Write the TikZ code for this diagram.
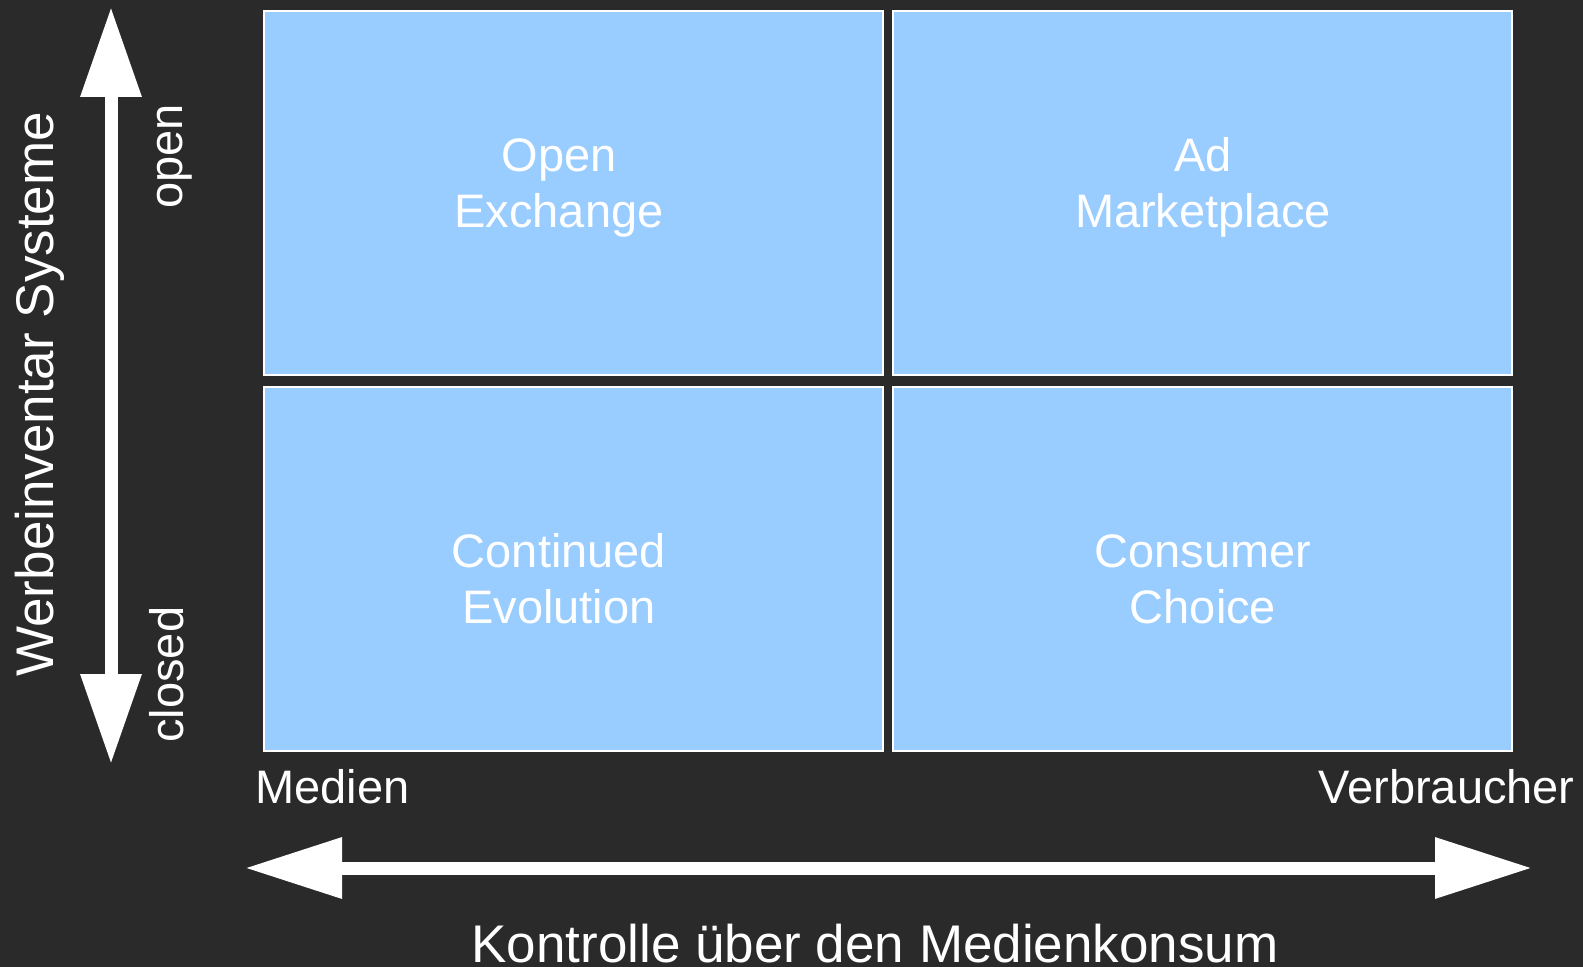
\documentclass[tikz,border=0pt]{standalone}
\usepackage{fontspec}
\setmainfont{Liberation Sans}
\usetikzlibrary{arrows.meta}
\definecolor{bgdark}{RGB}{42,42,42}
\definecolor{cellblue}{RGB}{153,204,255}

\begin{document}
\begin{tikzpicture}[x=0.5pt,y=-0.5pt,
	cell/.style={draw=white, line width=0.8pt, fill=cellblue, inner sep=0pt, anchor=north west, minimum width=309.5pt, minimum height=182pt},
	celltext/.style={text=white, inner sep=0pt, align=center, font=\fontsize{23.5pt}{28pt}\selectfont},
	axislabel/.style={text=white, inner sep=0pt, font=\fontsize{23.5pt}{28pt}\selectfont},
	axistitle/.style={text=white, inner sep=0pt, font=\fontsize{26.5pt}{32pt}\selectfont},
	vaxis/.style={draw=white, line width=6.5pt, {Triangle[length=45pt,width=29pt]}-{Triangle[length=45pt,width=29pt]}},
	haxis/.style={draw=white, line width=6.5pt, {Triangle[length=48.5pt,width=29pt]}-{Triangle[length=48.5pt,width=29pt]}}]

	\fill[bgdark] (0,0) rectangle (1583,967);
	\useasboundingbox (0,0) rectangle (1583,967);

	\node[cell] (openex) at (263,10.5) {};

	\node[cell] (admarket) at (892,10.5) {};

	\node[cell] (contevo) at (263,386) {};

	\node[cell] (consumer) at (892,386) {};

	\node[celltext, anchor=base] (openextext) at (559,228) {Open\\Exchange};

	\node[celltext, anchor=base] (admarkettext) at (1203,228) {Ad\\Marketplace};

	\node[celltext, anchor=base] (contevotext) at (559,623) {Continued\\Evolution};

	\node[celltext, anchor=base] (consumertext) at (1203,623) {Consumer\\Choice};

	\coordinate (vtop) at (111,7);
	\coordinate (vbottom) at (111,764);
	\draw[vaxis] (vbottom) -- (vtop);

	\coordinate (hleft) at (245,868);
	\coordinate (hright) at (1532,868);
	\draw[haxis] (hleft) -- (hright);

	\node[axislabel, anchor=base west] (medien) at (255,803) {Medien};

	\node[axislabel, anchor=base east] (verbraucher) at (1575,803) {Verbraucher};

	\node[axislabel, anchor=base west, rotate=90] (open) at (182,209) {open};

	\node[axislabel, anchor=base west, rotate=90] (closed) at (183,743) {closed};

	\node[axistitle, anchor=base] (kontrolle) at (875,962) {Kontrolle über den Medienkonsum};

	\node[axistitle, anchor=base west, rotate=90] (werbe) at (54,677) {Werbeinventar Systeme};

\end{tikzpicture}
\end{document}
